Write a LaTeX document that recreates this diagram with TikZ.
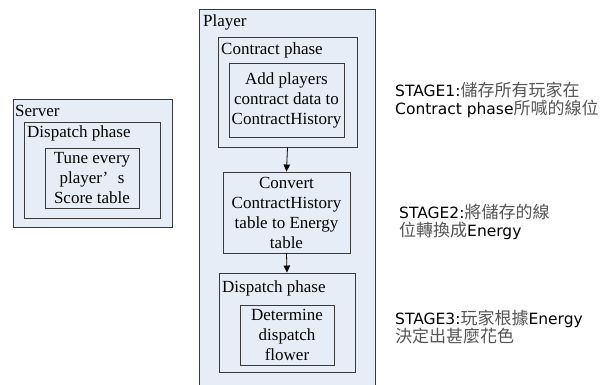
\documentclass[tikz,border=0pt]{standalone}
\usepackage{fontspec}
\setmainfont{Liberation Serif}
\newfontfamily\stagefont{DejaVu Sans}
\newfontfamily\cjk{Noto Sans CJK TC}
\usetikzlibrary{fit,arrows.meta}
\definecolor{panel}{HTML}{E7EDF7}
\definecolor{edge}{HTML}{3A3A3A}
\definecolor{hanzi}{HTML}{555555}
\tikzset{
  box/.style={draw=edge, fill=panel, line width=0.9pt, inner sep=0pt},
  title/.style={anchor=base west, inner sep=0pt, font=\fontsize{17}{20}\selectfont},
  body/.style={align=center, inner sep=0pt, font=\fontsize{17}{20}\selectfont},
  stage/.style={anchor=base west, align=left, inner sep=0pt,
    font=\stagefont\fontsize{15.5}{18}\selectfont},
  flow/.style={-{Triangle[length=7pt,width=6.5pt]}, line width=0.8pt, draw=black},
}
\newcommand{\zh}[1]{{\cjk\fontsize{17}{18}\selectfont\color{hanzi}#1}}
\begin{document}
\begin{tikzpicture}[x=1pt,y=-1pt]
\useasboundingbox (0,0) rectangle (613,385);

% Server side
\node[box, fit={(13,99) (172,227)}] (server) {};
\node[title] (serverlbl) at (15,117) {Server};
\node[box, fit={(24,122) (160,218)}] (sdisp) {};
\node[title] (sdisplbl) at (27,138) {Dispatch phase};
\node[box, fit={(45,148) (139,208)}] (tune) {};
\node[body] (tunetxt) at (tune.center) {Tune every\\player’\hspace{0.55em}s\\Score table};

% Player side (runs off the lower edge)
\node[box, fit={(199,9) (375,400)}] (player) {};
\node[title] (playerlbl) at (203,27) {Player};
\node[box, fit={(218,37) (357,147)}] (contract) {};
\node[title] (contractlbl) at (221,55) {Contract phase};
\node[box, fit={(229,63) (344,137)}] (add) {};
\node[body] (addtxt) at (add.center) {Add players\\contract data to\\ContractHistory};

\node[box, fit={(223,172) (350,253)}] (convert) {};
\node[body] (converttxt) at (convert.center) {Convert\\ContractHistory\\table to Energy\\table};

\node[box, fit={(219,273) (355,372)}] (pdisp) {};
\node[title] (pdisplbl) at (222,292) {Dispatch phase};
\node[box, fit={(240,305) (334,365)}] (determine) {};
\node[body] (determinetxt) at (determine.center) {Determine\\dispatch\\flower};

\draw[flow] (contract.south) -- (convert.north);
\draw[flow] (convert.south) -- (pdisp.north);

% Stage notes (anchored on the baseline of their last line)
\node[stage] (stage1) at (395,115) {STAGE1:\zh{儲存所有玩家在}\\Contract phase\zh{所喊的線位}};
\node[stage] (stage2) at (399,236) {STAGE2:\zh{將儲存的線}\\\zh{位轉換成}Energy};
\node[stage] (stage3) at (395,342) {STAGE3:\zh{玩家根據}Energy\\\zh{決定出甚麼花色}};
\end{tikzpicture}
\end{document}
